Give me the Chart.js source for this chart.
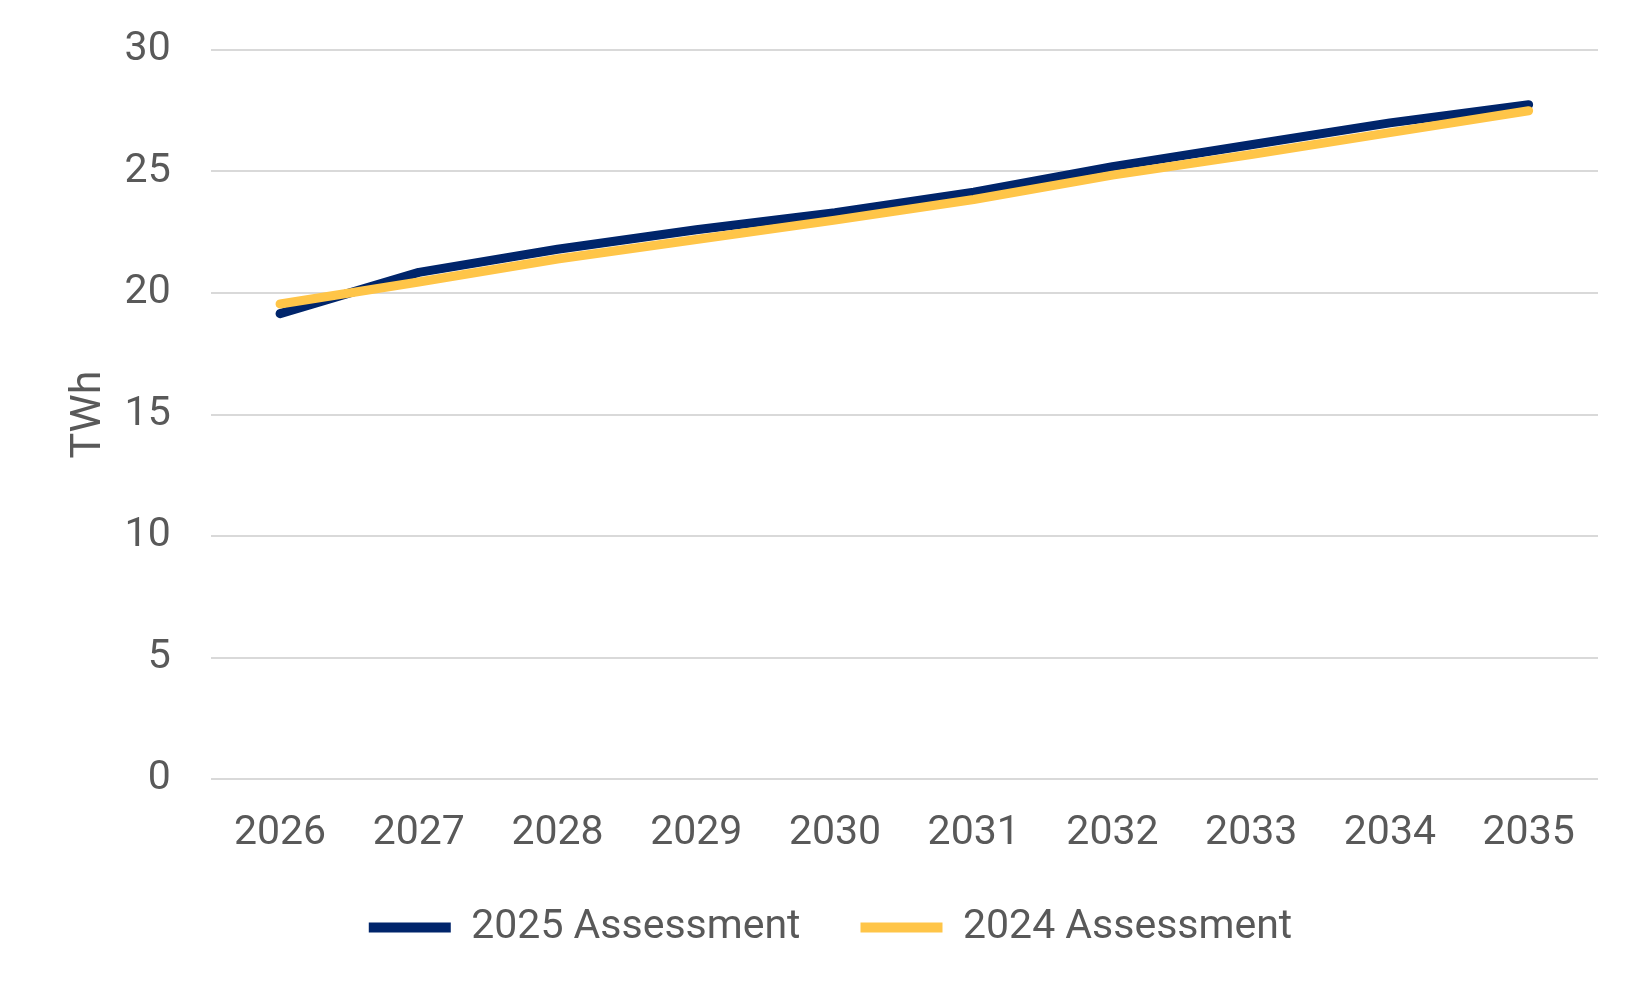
<!DOCTYPE html>
<html>
<head>
<meta charset="utf-8">
<script src="https://cdn.jsdelivr.net/npm/chart.js@4.4.1/dist/chart.umd.min.js"></script>
<style>
  html, body { margin: 0; padding: 0; background: #fff; }
  #wrap { width: 1650px; height: 990px; }
</style>
</head>
<body>
<div id="wrap"><canvas id="lineChart"></canvas></div>
<script>
const years = ['2026', '2027', '2028', '2029', '2030', '2031', '2032', '2033', '2034', '2035'];
const assessment2025 = [19.15, 20.85, 21.8, 22.6, 23.3, 24.15, 25.2, 26.1, 27.0, 27.75];
const assessment2024 = [19.55, 20.45, 21.4, 22.2, 23.0, 23.85, 24.85, 25.7, 26.6, 27.5];
const yTicks = [0, 5, 10, 15, 20, 25, 30];

const blue = '#00256B';
const yellow = '#FFC548';
const textColor = '#595959';
const gridColor = '#D9D9D9';

Chart.defaults.font.family = 'Roboto';
Chart.defaults.font.size = 41;
Chart.defaults.color = textColor;

function lineSet(label, data, color, order) {
    return {
        label: label,
        data: data,
        borderColor: color,
        backgroundColor: color,
        borderWidth: 9,
        borderCapStyle: 'round',
        borderJoinStyle: 'round',
        pointRadius: 0,
        tension: 0,
        fill: false,
        order: order
    };
}

const ctx = document.getElementById('lineChart');
new Chart(ctx, {
    type: 'line',
    data: {
        labels: years,
        datasets: [
            lineSet('2025 Assessment', assessment2025, blue, 1),
            lineSet('2024 Assessment', assessment2024, yellow, 0)
        ]
    },
    options: {
        responsive: true,
        maintainAspectRatio: false,
        animation: false,
        layout: {
            padding: {top: 50, right: 52, bottom: 32, left: 63}
        },
        plugins: {
            tooltip: {enabled: false},
            legend: {
                position: 'bottom',
                labels: {
                    boxWidth: 82,
                    boxHeight: 10,
                    padding: 60,
                    useBorderRadius: true,
                    borderRadius: 5,
                    color: textColor,
                    font: {size: 41},
                    sort: (a, b) => a.datasetIndex - b.datasetIndex,
                    generateLabels: (chart) => {
                        return chart.data.datasets.map((ds, i) => ({
                            text: ds.label,
                            fillStyle: ds.borderColor,
                            strokeStyle: ds.borderColor,
                            lineWidth: 0,
                            fontColor: textColor,
                            hidden: false,
                            datasetIndex: i
                        }));
                    }
                }
            }
        },
        scales: {
            x: {
                offset: true,
                grid: {display: false, drawTicks: false},
                border: {display: false},
                ticks: {padding: 30, color: textColor, font: {size: 41}},
                afterFit: (axis) => {
                    axis.height = 68;
                }
            },
            y: {
                min: 0,
                max: 30,
                afterBuildTicks: (axis) => {
                    axis.ticks = yTicks.map((v) => ({value: v}));
                },
                afterFit: (axis) => {
                    axis.paddingTop = 0;
                    axis.paddingBottom = 0;
                },
                grid: {color: gridColor, lineWidth: 2, drawTicks: false},
                border: {display: false},
                ticks: {padding: 40, color: textColor, font: {size: 41}},
                title: {
                    display: true,
                    text: 'TWh',
                    color: textColor,
                    font: {size: 43},
                    padding: {top: 0, bottom: -30}
                }
            }
        }
    }
});
</script>
</body>
</html>
